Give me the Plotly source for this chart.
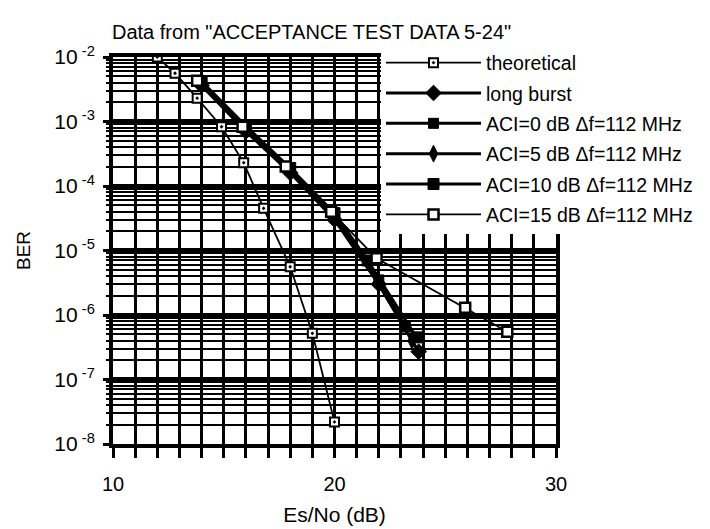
import plotly.graph_objects as go

# ---- data ----
x_theo = [12.0, 12.8, 13.8, 14.9, 15.9, 16.8, 18.0, 19.0, 20.0]
ber_theo = [1.0e-2, 5.6e-3, 2.3e-3, 8.3e-4, 2.3e-4, 4.5e-5, 5.6e-6, 5.2e-7, 2.2e-8]

x_lb = [14.0, 16.0, 18.0, 20.0, 22.0, 23.8]
ber_lb = [3.6e-3, 7.0e-4, 1.6e-4, 3.0e-5, 3.0e-6, 2.7e-7]

x_a0 = [14.0, 16.0, 18.0, 20.0, 22.0, 23.2]
ber_a0 = [4.0e-3, 8.0e-4, 1.8e-4, 3.5e-5, 3.5e-6, 6.5e-7]

x_a5 = [14.0, 16.0, 18.0, 20.0, 22.0, 23.5]
ber_a5 = [3.8e-3, 7.5e-4, 1.7e-4, 3.2e-5, 3.0e-6, 4.0e-7]

x_a10 = [14.0, 16.0, 18.0, 20.0, 21.5, 23.7]
ber_a10 = [4.2e-3, 8.5e-4, 1.9e-4, 3.8e-5, 7.0e-6, 4.5e-7]

x_a15 = [13.8, 15.85, 17.8, 19.85, 21.9, 25.9, 27.8]
ber_a15 = [4.3e-3, 8.3e-4, 2.0e-4, 4.0e-5, 7.6e-6, 1.3e-6, 5.5e-7]

series_names = ["theoretical", "long burst", "ACI=0 dB \u0394f=112 MHz",
                "ACI=5 dB \u0394f=112 MHz", "ACI=10 dB \u0394f=112 MHz",
                "ACI=15 dB \u0394f=112 MHz"]

y_tick_vals = [1e-2, 1e-3, 1e-4, 1e-5, 1e-6, 1e-7, 1e-8]
y_tick_text = ["10<sup> -2</sup>", "10<sup> -3</sup>", "10<sup> -4</sup>", "10<sup> -5</sup>",
               "10<sup> -6</sup>", "10<sup> -7</sup>", "10<sup> -8</sup>"]
x_tick_vals = [10, 20, 30]
x_tick_text = ["10", "20", "30"]

FONT = "Liberation Sans, Arial, sans-serif"

styles = [
    dict(symbol="square-dot", size=9, color="white", lw=1.8, mlw=2),
    dict(symbol="diamond", size=12, color="black", lw=3, mlw=1),
    dict(symbol="square", size=10, color="black", lw=3, mlw=1),
    dict(symbol="diamond-tall", size=12, color="black", lw=3, mlw=1),
    dict(symbol="square", size=11, color="black", lw=3, mlw=1),
    dict(symbol="square", size=10, color="white", lw=1.8, mlw=2.5),
]
data = [(x_theo, ber_theo), (x_lb, ber_lb), (x_a0, ber_a0), (x_a5, ber_a5),
        (x_a10, ber_a10), (x_a15, ber_a15)]

fig = go.Figure()
for i, (name, (xs, ys), st) in enumerate(zip(series_names, data, styles)):
    fig.add_trace(go.Scatter(
        x=xs, y=ys, name=name, mode="lines+markers", legendgroup=f"g{i}",
        line=dict(color="black", width=st["lw"]),
        marker=dict(symbol=st["symbol"], size=st["size"], color=st["color"],
                    line=dict(color="black", width=st["mlw"])),
    ))

fig.update_layout(
    width=710, height=529,
    margin=dict(l=113, r=154, t=57, b=85, autoexpand=False),
    paper_bgcolor="white", plot_bgcolor="white",
    font=dict(family=FONT, color="black", size=19),
    title=dict(text='Data from "ACCEPTANCE TEST DATA 5-24"', x=112 / 710, xanchor="left",
               y=1 - 32 / 529, yanchor="middle", font=dict(size=20)),
    showlegend=True,
    legend=dict(x=0.605, xanchor="left", y=1.035, yanchor="top", bgcolor="white",
                itemwidth=95, tracegroupgap=2, font=dict(size=19.5),
                borderwidth=0),
)

fig.update_xaxes(
    range=[10, 30], tickmode="array", tickvals=x_tick_vals, ticktext=x_tick_text,
    ticks="outside", ticklen=10, tickwidth=2.5, tickcolor="black",
    showgrid=True, gridcolor="black", gridwidth=2.5,
    minor=dict(dtick=1, tick0=10, ticks="outside", ticklen=10, tickwidth=2.5, tickcolor="black",
               showgrid=True, gridcolor="black", gridwidth=2.5),
    showline=True, linecolor="black", linewidth=4, mirror=True, zeroline=False,
    tickfont=dict(size=20), ticklabelstandoff=9, automargin=False,
    title=dict(text="Es/No (dB)", font=dict(size=21), standoff=14),
)
fig.update_yaxes(
    type="log", range=[-8, -2], tickmode="array", tickvals=y_tick_vals, ticktext=y_tick_text,
    ticks="outside", ticklen=6, tickwidth=3, tickcolor="black",
    showgrid=True, gridcolor="black", gridwidth=5,
    minor=dict(dtick="D1", showgrid=True, gridcolor="black", gridwidth=2,
               ticks="outside", ticklen=3, tickcolor="black", tickwidth=2),
    showline=True, linecolor="black", linewidth=4, mirror=True, zeroline=False,
    tickfont=dict(size=21), ticklabelstandoff=4, automargin=False,
    title=dict(text="BER", font=dict(size=19), standoff=20),
)

fig.write_html("out.html")
